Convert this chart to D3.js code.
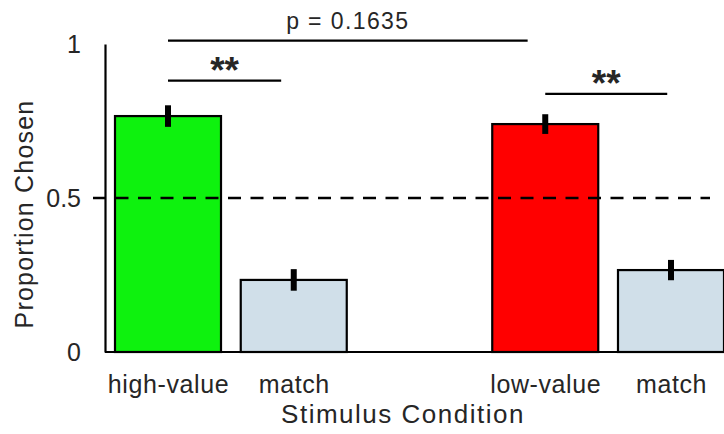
<!DOCTYPE html>
<html>
<head>
<meta charset="utf-8">
<script src="https://cdn.jsdelivr.net/npm/d3@7"></script>
<style>
  body { margin: 0; background: #fff; }
  svg { display: block; }
  .lbl { font-family: "Liberation Sans", Arial, sans-serif; fill: #262626; }
</style>
</head>
<body>
<div id="chart"></div>
<script>
// --- data ---
const categories = ["high-value", "match", "low-value", "match"];
const positions = [1, 2, 4, 5];          // slot of each bar on the x axis
const values = [0.766, 0.234, 0.740, 0.266];
const errors = [0.035, 0.035, 0.032, 0.033];
const colors = ["#0ef20e", "#d0dfe9", "#ff0000", "#d0dfe9"];
const yTicks = [0, 0.5, 1];
const chanceLevel = 0.5;

// significance brackets (x in slot units, y in proportion units)
const brackets = [
  { x0: 1, x1: 3.86, y: 1.011, label: "p = 0.1635" },
  { x0: 1, x1: 1.9, y: 0.881, label: "**" },
  { x0: 4, x1: 4.97, y: 0.838, label: "**" }
];

const width = 724, height = 434;
const axisX = 105;

const svg = d3.select("#chart")
  .append("svg")
  .attr("width", width)
  .attr("height", height);

// --- scales ---
const x = d3.scaleLinear().domain([1, 5]).range([168, 671]);
const y = d3.scaleLinear().domain([0, 1]).range([352, 44]);
const barW = x(1.843) - x(1);

// --- bars ---
svg.append("g")
  .selectAll("rect")
  .data(values)
  .join("rect")
  .attr("x", (d, i) => x(positions[i]) - barW / 2)
  .attr("y", d => y(d))
  .attr("width", barW)
  .attr("height", d => y(0) - y(d))
  .attr("fill", (d, i) => colors[i])
  .attr("stroke", "#000")
  .attr("stroke-width", 2.2);

// --- error bars ---
svg.append("g")
  .selectAll("line")
  .data(values)
  .join("line")
  .attr("x1", (d, i) => x(positions[i]))
  .attr("x2", (d, i) => x(positions[i]))
  .attr("y1", (d, i) => y(d + errors[i]))
  .attr("y2", (d, i) => y(d - errors[i]))
  .attr("stroke", "#000")
  .attr("stroke-width", 6);

// --- chance line ---
svg.append("line")
  .attr("x1", 93)
  .attr("x2", 710)
  .attr("y1", y(chanceLevel))
  .attr("y2", y(chanceLevel))
  .attr("stroke", "#000")
  .attr("stroke-width", 2.5)
  .attr("stroke-dasharray", "13,9.5");

// --- y axis ---
const yAxis = d3.axisLeft(y)
  .tickValues(yTicks)
  .tickFormat(d3.format("~g"))
  .tickSize(0)
  .tickSizeOuter(0)
  .tickPadding(24);

const gy = svg.append("g")
  .attr("transform", `translate(${axisX},0)`)
  .call(yAxis);
gy.select(".domain").attr("stroke", "#000").attr("stroke-width", 2.2);
gy.selectAll("text")
  .attr("class", "lbl")
  .style("font-size", "25px")
  .attr("fill", "#262626");

// --- x axis ---
const xAxis = d3.axisBottom(x)
  .tickValues(positions)
  .tickFormat((d, i) => categories[i])
  .tickSize(0)
  .tickPadding(23);

const gx = svg.append("g")
  .attr("transform", `translate(0,${y(0)})`)
  .call(xAxis);
gx.select(".domain").remove();
gx.selectAll("text")
  .attr("class", "lbl")
  .style("font-size", "25px")
  .style("letter-spacing", "0.6px")
  .attr("fill", "#262626");

svg.append("line")
  .attr("x1", axisX)
  .attr("x2", width)
  .attr("y1", y(0))
  .attr("y2", y(0))
  .attr("stroke", "#000")
  .attr("stroke-width", 2.2);

// --- significance brackets ---
const sig = svg.append("g");
sig.selectAll("line")
  .data(brackets)
  .join("line")
  .attr("x1", d => x(d.x0))
  .attr("x2", d => x(d.x1))
  .attr("y1", d => y(d.y))
  .attr("y2", d => y(d.y))
  .attr("stroke", "#000")
  .attr("stroke-width", 2.2);

sig.selectAll("text")
  .data(brackets)
  .join("text")
  .attr("class", "lbl")
  .attr("text-anchor", "middle")
  .attr("x", d => (x(d.x0) + x(d.x1)) / 2)
  .attr("y", d => d.label === "**" ? y(d.y) + 2 : y(d.y) - 12)
  .style("font-size", d => d.label === "**" ? "37px" : "23px")
  .style("font-weight", d => d.label === "**" ? "bold" : "normal")
  .style("letter-spacing", d => d.label === "**" ? "0px" : "1.4px")
  .attr("fill", d => d.label === "**" ? "#000" : "#262626")
  .text(d => d.label);

// --- axis titles ---
svg.append("text")
  .attr("class", "lbl")
  .attr("text-anchor", "middle")
  .attr("x", 403)
  .attr("y", 423)
  .style("font-size", "26px")
  .style("letter-spacing", "1.5px")
  .text("Stimulus Condition");

svg.append("text")
  .attr("class", "lbl")
  .attr("text-anchor", "middle")
  .attr("transform", "translate(33,214) rotate(-90)")
  .style("font-size", "25px")
  .style("letter-spacing", "1.2px")
  .text("Proportion Chosen");
</script>
</body>
</html>
